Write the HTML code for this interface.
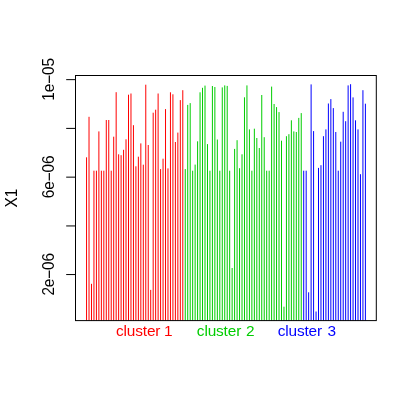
<!DOCTYPE html>
<html><head><meta charset="utf-8"><title>plot</title>
<style>html,body{margin:0;padding:0;background:#fff;width:415px;height:415px;overflow:hidden;font-family:"Liberation Sans",sans-serif}</style>
</head><body>
<svg width="415" height="415" viewBox="0 0 415 415" style="position:absolute;left:0;top:0;will-change:transform">
<path d="M86.55 320.6V157.3M89.02 320.6V116.8M91.49 320.6V283.8M93.95 320.6V170.7M96.42 320.6V170.7M98.89 320.6V131.4M101.36 320.6V170.7M103.82 320.6V170.7M106.29 320.6V120.0M108.76 320.6V120.0M111.23 320.6V170.7M113.69 320.6V136.7M116.16 320.6V92.2M118.63 320.6V154.3M121.10 320.6V155.2M123.57 320.6V149.8M126.03 320.6V139.3M128.50 320.6V94.7M130.97 320.6V93.5M133.44 320.6V125.2M135.90 320.6V166.3M138.37 320.6V156.7M140.84 320.6V143.4M143.31 320.6V164.7M145.77 320.6V84.7M148.24 320.6V145.0M150.71 320.6V289.9M153.18 320.6V112.7M155.65 320.6V109.7M158.11 320.6V93.5M160.58 320.6V169.1M163.05 320.6V158.7M165.52 320.6V109.1M167.98 320.6V168.4M170.45 320.6V92.3M172.92 320.6V94.3M175.39 320.6V142.0M177.85 320.6V132.6M180.32 320.6V100.1M182.79 320.6V90.2" stroke="#ff0000" stroke-width="1.0" fill="none" stroke-linecap="butt"/>
<path d="M185.26 320.6V169.1M187.73 320.6V104.9M190.19 320.6V103.1M192.66 320.6V170.7M195.13 320.6V164.6M197.60 320.6V141.3M200.06 320.6V92.3M202.53 320.6V87.8M205.00 320.6V85.6M207.47 320.6V144.1M209.93 320.6V170.7M212.40 320.6V86.0M214.87 320.6V87.0M217.34 320.6V139.5M219.81 320.6V170.7M222.27 320.6V87.4M224.74 320.6V85.4M227.21 320.6V85.9M229.68 320.6V170.7M232.14 320.6V268.0M234.61 320.6V148.9M237.08 320.6V140.2M239.55 320.6V168.2M242.02 320.6V154.3M244.48 320.6V97.3M246.95 320.6V85.4M249.42 320.6V129.4M251.89 320.6V170.7M254.35 320.6V128.7M256.82 320.6V138.0M259.29 320.6V148.0M261.76 320.6V95.0M264.22 320.6V137.2M266.69 320.6V170.7M269.16 320.6V170.7M271.63 320.6V86.6M274.10 320.6V104.0M276.56 320.6V107.1M279.03 320.6V112.1M281.50 320.6V140.7M283.97 320.6V306.7M286.43 320.6V136.2M288.90 320.6V134.2M291.37 320.6V120.3M293.84 320.6V131.4M296.30 320.6V132.0M298.77 320.6V117.9M301.24 320.6V113.1" stroke="#00cd00" stroke-width="1.0" fill="none" stroke-linecap="butt"/>
<path d="M303.71 320.6V170.7M306.18 320.6V170.7M308.64 320.6V292.3M311.11 320.6V84.4M313.58 320.6V131.1M316.05 320.6V311.5M318.51 320.6V167.9M320.98 320.6V165.2M323.45 320.6V136.2M325.92 320.6V129.4M328.38 320.6V103.5M330.85 320.6V99.1M333.32 320.6V108.1M335.79 320.6V132.0M338.26 320.6V170.7M340.72 320.6V141.7M343.19 320.6V111.8M345.66 320.6V121.2M348.13 320.6V85.4M350.59 320.6V84.2M353.06 320.6V97.4M355.53 320.6V120.3M358.00 320.6V129.4M360.46 320.6V174.2M362.93 320.6V90.2M365.40 320.6V103.7" stroke="#0000ff" stroke-width="1.0" fill="none" stroke-linecap="butt"/>
<rect x="75.5" y="75.5" width="300.8" height="245.10000000000002" fill="none" stroke="#000" stroke-width="1"/>
<path d="M75.5 79.65H66.2M75.5 128.4H66.2M75.5 177.15H66.2M75.5 225.95H66.2M75.5 274.55H66.2" stroke="#000" stroke-width="1" fill="none"/>
<text font-family="Liberation Sans, sans-serif" font-size="15.4" letter-spacing="-0.15" text-anchor="middle" transform="translate(53.8 79.45) rotate(-90) scale(1 1.13)" fill="#000">1e<tspan dy="1.2">−</tspan><tspan dy="-1.2">05</tspan></text>
<text font-family="Liberation Sans, sans-serif" font-size="15.4" letter-spacing="-0.15" text-anchor="middle" transform="translate(53.8 176.95000000000002) rotate(-90) scale(1 1.13)" fill="#000">6e<tspan dy="1.2">−</tspan><tspan dy="-1.2">06</tspan></text>
<text font-family="Liberation Sans, sans-serif" font-size="15.4" letter-spacing="-0.15" text-anchor="middle" transform="translate(53.8 274.35) rotate(-90) scale(1 1.13)" fill="#000">2e<tspan dy="1.2">−</tspan><tspan dy="-1.2">06</tspan></text>
<text font-family="Liberation Sans, sans-serif" font-size="15.4" text-anchor="middle" transform="translate(16.9 198.1) rotate(-90) scale(1 1.13)" fill="#000">X1</text>
<text font-family="Liberation Sans, sans-serif" font-size="15.4" letter-spacing="-0.15" x="116.0" y="335.6" fill="#ff0000">cluster</text>
<text font-family="Liberation Sans, sans-serif" font-size="15.4" x="163.9" y="335.6" fill="#ff0000">1</text>
<text font-family="Liberation Sans, sans-serif" font-size="15.4" letter-spacing="-0.15" x="196.85" y="335.6" fill="#00cd00">cluster</text>
<text font-family="Liberation Sans, sans-serif" font-size="15.4" x="246.0" y="335.6" fill="#00cd00">2</text>
<text font-family="Liberation Sans, sans-serif" font-size="15.4" letter-spacing="-0.15" x="277.7" y="335.6" fill="#0000ff">cluster</text>
<text font-family="Liberation Sans, sans-serif" font-size="15.4" x="327.4" y="335.6" fill="#0000ff">3</text>
</svg>
</body></html>
